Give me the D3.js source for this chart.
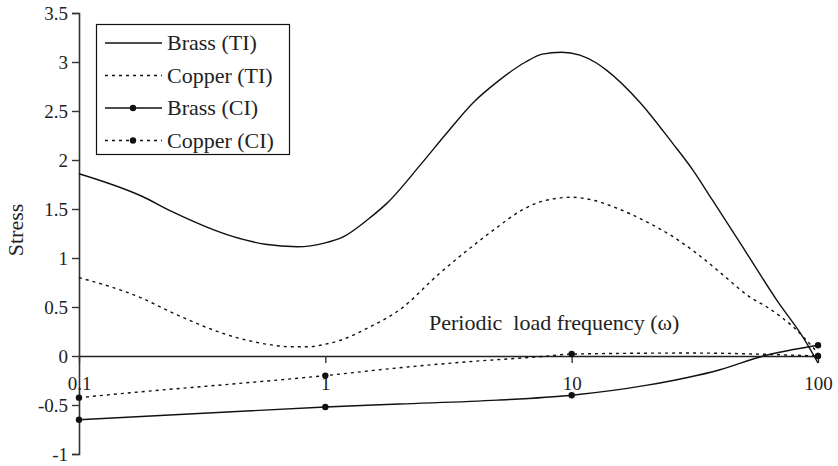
<!DOCTYPE html>
<html>
<head>
<meta charset="utf-8">
<script src="https://cdn.jsdelivr.net/npm/d3@7"></script>
<style>
  body { margin: 0; background: #fff; }
  text { font-family: "Liberation Serif", "Times New Roman", serif; fill: #222; }
</style>
</head>
<body>
<div id="chart"></div>
<script>
// data
var seriesNames = ["Brass (TI)", "Copper (TI)", "Brass (CI)", "Copper (CI)"];

var brassTIx = [0.1, 0.18, 0.24, 0.42, 0.57, 0.77, 1.0, 1.17, 1.5, 1.78, 2.45, 3.1, 4.0, 5.0, 6.5, 7.6, 9.1, 10.8, 12.6, 13.8, 18.9, 25.7, 31, 37.3, 51.3, 68, 87, 100];
var brassTIy = [1.86, 1.63, 1.47, 1.22, 1.14, 1.115, 1.155, 1.21, 1.40, 1.56, 1.96, 2.27, 2.59, 2.80, 3.0, 3.08, 3.10, 3.07, 2.99, 2.92, 2.59, 2.17, 1.90, 1.59, 1.05, 0.57, 0.19, -0.07];

var copperTIx = [0.1, 0.18, 0.24, 0.42, 0.58, 0.72, 0.86, 1.0, 1.18, 1.47, 2.0, 2.9, 4.0, 4.9, 6.3, 7.4, 10, 12.2, 15.2, 19.4, 25.7, 34, 41, 53, 62, 79, 100];
var copperTIy = [0.80, 0.59, 0.44, 0.20, 0.12, 0.095, 0.095, 0.12, 0.17, 0.28, 0.47, 0.84, 1.13, 1.30, 1.49, 1.57, 1.62, 1.59, 1.51, 1.39, 1.22, 1.0, 0.83, 0.60, 0.50, 0.30, 0.03];

var brassCIx = [0.1, 1, 2, 5, 10, 20, 40, 60, 100];
var brassCIy = [-0.65, -0.52, -0.49, -0.45, -0.40, -0.30, -0.14, 0.0, 0.11];

var copperCIx = [0.1, 0.17, 0.36, 1, 2, 3.75, 7.6, 10, 30, 100];
var copperCIy = [-0.425, -0.37, -0.30, -0.20, -0.12, -0.06, -0.005, 0.02, 0.03, 0.0];

var markerX = [0.1, 1, 10, 100];
var xTicks = [0.1, 1, 10, 100];
var xTickLabels = ["0.1", "1", "10", "100"];
var yTicks = [-1, -0.5, 0, 0.5, 1, 1.5, 2, 2.5, 3, 3.5];

var svgWidth = 838;
var svgHeight = 466;

var svg = d3.select("#chart")
  .append("svg")
  .attr("width", svgWidth)
  .attr("height", svgHeight);

var xScale = d3.scaleLog()
  .domain([0.1, 100])
  .range([79, 818]);

var yScale = d3.scaleLinear()
  .domain([-1, 3.5])
  .range([454, 13]);

// y axis (plain hyphen for negatives, like the original)
var leftAxis = d3.axisLeft(yScale)
  .tickValues(yTicks)
  .tickFormat(d => String(d))
  .tickSize(7)
  .tickPadding(4);

var yAxisG = svg.append("g")
  .attr("transform", "translate(79,0)")
  .call(leftAxis);
yAxisG.select(".domain").attr("stroke", "#333").attr("stroke-width", 1.6);
yAxisG.selectAll(".tick line").attr("stroke", "#333").attr("stroke-width", 1.4);
yAxisG.selectAll(".tick text")
  .style("font-size", "19px")
  .style("font-family", '"Liberation Serif", "Times New Roman", serif')
  .attr("fill", "#222");

// x axis sits on y = 0
var bottomAxis = d3.axisBottom(xScale)
  .tickValues(xTicks)
  .tickFormat(function(d, i) { return xTickLabels[i]; })
  .tickSize(7)
  .tickSizeOuter(0)
  .tickPadding(14);

var xAxisG = svg.append("g")
  .attr("transform", "translate(0," + yScale(0) + ")")
  .call(bottomAxis);
xAxisG.select(".domain").attr("stroke", "#222").attr("stroke-width", 1.4);
xAxisG.selectAll(".tick line").attr("stroke", "#333").attr("stroke-width", 1.4);
xAxisG.selectAll(".tick text")
  .style("font-size", "19px")
  .style("font-family", '"Liberation Serif", "Times New Roman", serif')
  .attr("fill", "#222");

var line = d3.line()
  .x(d => xScale(d[0]))
  .y(d => yScale(d[1]))
  .curve(d3.curveMonotoneX);

var series = [
  { xs: brassTIx, ys: brassTIy, dash: null, markers: false },
  { xs: copperTIx, ys: copperTIy, dash: "3,4", markers: false },
  { xs: brassCIx, ys: brassCIy, dash: null, markers: true },
  { xs: copperCIx, ys: copperCIy, dash: "3,4", markers: true }
];

series.forEach(function(s) {
  var pts = s.xs.map((x, i) => [x, s.ys[i]]);
  svg.append("path")
    .attr("d", line(pts))
    .attr("fill", "none")
    .attr("stroke", "#111")
    .attr("stroke-width", 1.4)
    .attr("stroke-dasharray", s.dash);
  if (s.markers) {
    svg.selectAll(null)
      .data(pts.filter(p => markerX.indexOf(p[0]) >= 0))
      .enter()
      .append("circle")
      .attr("cx", d => xScale(d[0]))
      .attr("cy", d => yScale(d[1]))
      .attr("r", 3.2)
      .attr("fill", "#111");
  }
});

// axis titles
svg.append("text")
  .attr("transform", "translate(23,230) rotate(-90)")
  .attr("text-anchor", "middle")
  .style("font-size", "22px")
  .text("Stress");

svg.append("text")
  .attr("x", 429)
  .attr("y", 330)
  .style("font-size", "22px")
  .style("white-space", "pre")
  .text("Periodic  load frequency (ω)");

// legend
var legend = svg.append("g");
legend.append("rect")
  .attr("x", 96.5)
  .attr("y", 24.5)
  .attr("width", 193)
  .attr("height", 130)
  .attr("fill", "#fff")
  .attr("stroke", "#111")
  .attr("stroke-width", 1.2);

seriesNames.forEach(function(name, i) {
  var s = series[i];
  var ly = 43 + i * 32.5;
  legend.append("line")
    .attr("x1", 105).attr("x2", 162)
    .attr("y1", ly).attr("y2", ly)
    .attr("stroke", "#111")
    .attr("stroke-width", 1.4)
    .attr("stroke-dasharray", s.dash);
  if (s.markers) {
    legend.append("circle")
      .attr("cx", 133).attr("cy", ly)
      .attr("r", 3.2)
      .attr("fill", "#111");
  }
  legend.append("text")
    .attr("x", 167)
    .attr("y", ly + 7)
    .style("font-size", "22px")
    .text(name);
});
</script>
</body>
</html>
